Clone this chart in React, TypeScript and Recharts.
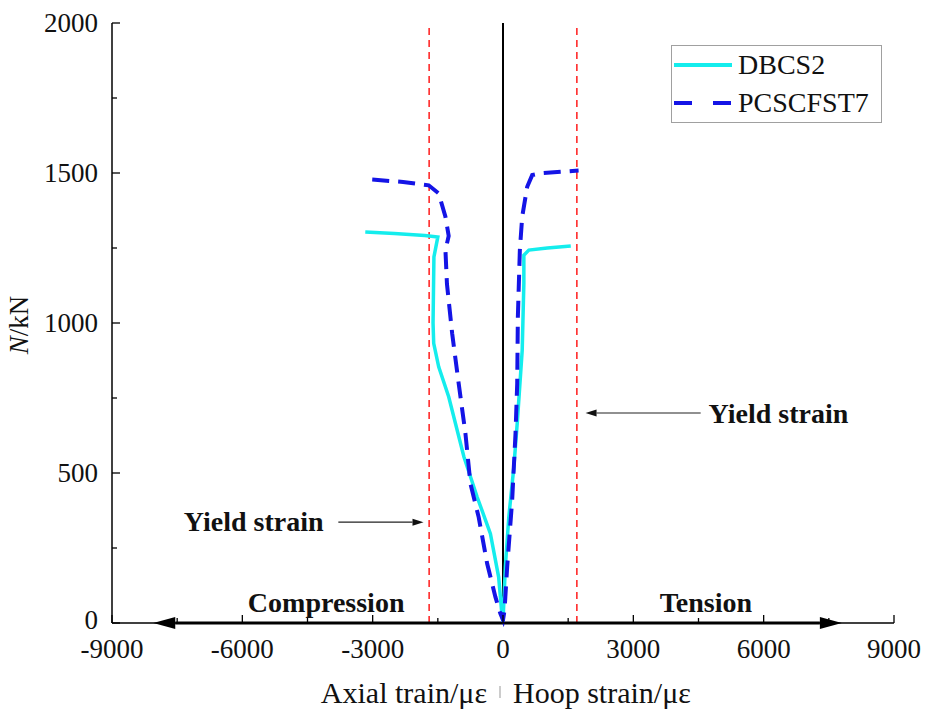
import React from "react";
import {
  LineChart,
  Line,
  XAxis,
  YAxis,
  ReferenceLine,
  ReferenceDot,
  Legend,
} from "recharts";

const FONT = "'Liberation Serif', 'Times New Roman', serif";

// strain (με), negative = axial compression, positive = hoop tension
const DBCS2_STRAIN = [
  -3170, -2500, -1800, -1500, -1590, -1610, -1595, -1480, -1250, -900, -595, -290,
  -100, -20, 0, 55, 134, 250, 327, 442, 480, 480, 595, 1020, 1560,
];
const DBCS2_LOAD = [
  1303, 1298, 1292, 1287, 1220, 1000, 932, 854, 754, 554, 420, 298, 153, 20, 5,
  190, 354, 520, 665, 909, 1132, 1226, 1243, 1250, 1257,
];

const PCS7_STRAIN = [
  -3010, -2300, -1710, -1480, -1325, -1250, -1325, -1290, -1170, -1020, -865, -750,
  -560, -365, -175, -60, 0, 35, 96, 211, 288, 327, 342, 388, 442, 557, 672, 864,
  1740,
];
const PCS7_LOAD = [
  1478, 1470, 1459, 1432, 1354, 1290, 1243, 1130, 965, 798, 632, 465, 353, 198,
  87, 31, 10, 42, 187, 409, 632, 798, 1020, 1243, 1354, 1454, 1493, 1499, 1508,
];

const X_TICKS = [-9000, -7500, -6000, -4500, -3000, -1500, 0, 1500, 3000, 4500, 6000, 7500, 9000];
const Y_TICKS = [0, 250, 500, 750, 1000, 1250, 1500, 1750, 2000];
const YIELD_STRAIN = [-1700, 1700];

const dbcs2 = DBCS2_STRAIN.map((e, i) => ({ e, n: DBCS2_LOAD[i] }));
const pcs7 = PCS7_STRAIN.map((e, i) => ({ e, n: PCS7_LOAD[i] }));

const CYAN = "#14eded";
const BLUE = "#1414e6";

const XTick = (props: any) => {
  const { x, y, payload } = props;
  const major = payload.value % 3000 === 0;
  return (
    <g>
      <line x1={x} y1={y} x2={x} y2={y - (major ? 8 : 5)} stroke="#000" strokeWidth={1.3} />
      {major && (
        <text x={x} y={y + 16} dy="0.71em" textAnchor="middle" fontSize={27} fontFamily={FONT} fill="#111">
          {payload.value}
        </text>
      )}
    </g>
  );
};

const YTick = (props: any) => {
  const { x, y, payload } = props;
  const major = payload.value % 500 === 0;
  return (
    <g>
      <line x1={x} y1={y} x2={x + (major ? 8 : 5)} y2={y} stroke="#000" strokeWidth={1.3} />
      {major && (
        <text
          x={x - 14}
          y={payload.value === 0 ? y - 3 : y}
          dy="0.33em"
          textAnchor="end"
          fontSize={27}
          fontFamily={FONT}
          fill="#111"
        >
          {payload.value}
        </text>
      )}
    </g>
  );
};

const BigArrow = (props: any) => {
  const { x1, y1, x2, y2 } = props;
  const h = 22;
  const w = 6;
  return (
    <g>
      <line x1={x1 + h} y1={y1} x2={x2 - h} y2={y2} stroke="#000" strokeWidth={3.2} />
      <polygon points={`${x1},${y1} ${x1 + h},${y1 - w} ${x1 + h},${y1 + w}`} fill="#000" />
      <polygon points={`${x2},${y2} ${x2 - h},${y2 - w} ${x2 - h},${y2 + w}`} fill="#000" />
    </g>
  );
};

const ThinArrow = (props: any) => {
  const { x1, y1, x2, y2 } = props;
  const dir = x2 > x1 ? 1 : -1;
  const h = 11;
  const w = 3.5;
  return (
    <g>
      <line x1={x1} y1={y1} x2={x2 - dir * h} y2={y2} stroke="#222" strokeWidth={1.2} />
      <polygon points={`${x2},${y2} ${x2 - dir * h},${y2 - w} ${x2 - dir * h},${y2 + w}`} fill="#111" />
    </g>
  );
};

const label = (text: string, size: number) => (props: any) => (
  <text
    x={props.cx}
    y={props.cy}
    dy="0.35em"
    textAnchor="middle"
    fontSize={size}
    fontWeight="bold"
    fontFamily={FONT}
    fill="#111"
  >
    {text}
  </text>
);

const LegendBox = () => (
  <div
    style={{
      width: 209,
      height: 76,
      border: "1.5px solid #a0a0a0",
      background: "#fff",
      fontFamily: FONT,
      fontSize: 28,
      color: "#111",
      boxSizing: "content-box",
    }}
  >
    {[
      { name: "DBCS2", color: CYAN, dash: undefined as string | undefined },
      { name: "PCSCFST7", color: BLUE, dash: "18 21" },
    ].map((it) => (
      <div key={it.name} style={{ display: "flex", alignItems: "center", height: 38, lineHeight: "38px" }}>
        <svg width={64} height={10} style={{ marginLeft: 2 }}>
          <line x1={0} y1={5} x2={58} y2={5} stroke={it.color} strokeWidth={4} strokeDasharray={it.dash} />
        </svg>
        <span>{it.name}</span>
      </div>
    ))}
  </div>
);

export default function App() {
  return (
    <div style={{ position: "absolute", left: 0, top: 0, width: 929, height: 725, background: "#fff" }}>
      <LineChart width={929} height={725} margin={{ top: 23, right: 35, bottom: 42, left: 32 }}>
        <XAxis
          dataKey="e"
          type="number"
          domain={[-9000, 9000]}
          ticks={X_TICKS}
          interval={0}
          allowDataOverflow
          height={60}
          tickSize={0}
          tickMargin={0}
          tick={<XTick />}
          axisLine={{ stroke: "#000", strokeWidth: 1.5 }}
          label={() => {
            const cy = 692;
            return (
              <g fontFamily={FONT} fontSize={30} fill="#111">
                <text x={487} y={cy} dy="0.35em" textAnchor="end">
                  Axial train/με
                </text>
                <line x1={500} y1={cy - 6} x2={500} y2={cy + 6} stroke="#bbb" strokeWidth={1.5} />
                <text x={513} y={cy} dy="0.35em" textAnchor="start">
                  Hoop strain/με
                </text>
              </g>
            );
          }}
        />
        <YAxis
          type="number"
          domain={[0, 2000]}
          ticks={Y_TICKS}
          interval={0}
          width={80}
          tickSize={0}
          tickMargin={0}
          tick={<YTick />}
          axisLine={{ stroke: "#000", strokeWidth: 1.5 }}
          label={() => {
            const cx = 19;
            const cy = 325;
            return (
              <text
                x={cx}
                y={cy}
                dy="0.35em"
                textAnchor="middle"
                transform={`rotate(-90, ${cx}, ${cy})`}
                fontFamily={FONT}
                fontSize={27}
                fill="#111"
              >
                <tspan fontStyle="italic">N</tspan>/kN
              </text>
            );
          }}
        />
        <Legend
          layout="horizontal"
          verticalAlign="middle"
          align="center"
          wrapperStyle={{ left: 671, top: 45, width: 212 }}
          content={() => <LegendBox />}
        />
        {YIELD_STRAIN.map((v) => (
          <ReferenceLine key={v} x={v} stroke="#ff2a2a" strokeWidth={1.6} strokeDasharray="7 5" />
        ))}
        <ReferenceLine x={0} stroke="#000" strokeWidth={2} />
        <ReferenceLine segment={[{ x: -8050, y: 0 }, { x: 7800, y: 0 }]} shape={<BigArrow />} />
        <ReferenceLine segment={[{ x: -3790, y: 336 }, { x: -1830, y: 336 }]} shape={<ThinArrow />} />
        <ReferenceLine segment={[{ x: 4550, y: 700 }, { x: 1900, y: 700 }]} shape={<ThinArrow />} />
        <ReferenceDot x={-5740} y={340} r={0} shape={label("Yield strain", 28)} />
        <ReferenceDot x={6340} y={700} r={0} shape={label("Yield strain", 28)} />
        <ReferenceDot x={-4070} y={70} r={0} shape={label("Compression", 28)} />
        <ReferenceDot x={4670} y={70} r={0} shape={label("Tension", 28)} />
        <Line
          data={dbcs2}
          dataKey="n"
          type="linear"
          stroke={CYAN}
          strokeWidth={3.5}
          dot={false}
          activeDot={false}
          isAnimationActive={false}
          legendType="none"
        />
        <Line
          data={pcs7}
          dataKey="n"
          type="linear"
          stroke={BLUE}
          strokeWidth={4}
          strokeDasharray="17 9"
          dot={false}
          activeDot={false}
          isAnimationActive={false}
          legendType="none"
        />
      </LineChart>
    </div>
  );
}
